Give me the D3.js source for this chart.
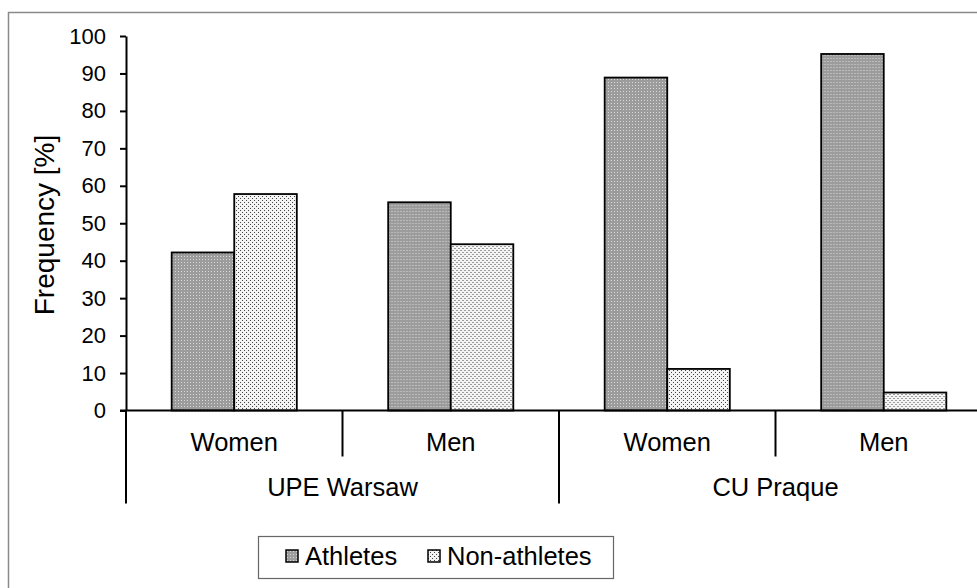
<!DOCTYPE html>
<html>
<head>
<meta charset="utf-8">
<script src="https://cdn.jsdelivr.net/npm/d3@7"></script>
<style>
  body { margin: 0; background: #fff; }
  svg { display: block; font-family: "Liberation Sans", Arial, sans-serif; }
</style>
</head>
<body>
<div id="chart"></div>
<script>
// data
const groups = ["UPE Warsaw", "CU Praque"];
const subgroups = ["Women", "Men", "Women", "Men"];
const groupOf = ["UPE Warsaw", "UPE Warsaw", "CU Praque", "CU Praque"];
const series = ["Athletes", "Non-athletes"];
const athletes = [42.2, 55.6, 88.9, 95.2];
const nonAthletes = [57.8, 44.4, 11.1, 4.8];
const yTicks = [0, 10, 20, 30, 40, 50, 60, 70, 80, 90, 100];

const W = 977, H = 588;
const margin = {top: 36, left: 126};
const plotW = 866, plotH = 374.5;

const svg = d3.select("#chart").append("svg")
  .attr("width", W)
  .attr("height", H);

// patterns
const defs = svg.append("defs");
const pa = defs.append("pattern")
  .attr("id", "patAth")
  .attr("patternUnits", "userSpaceOnUse")
  .attr("width", 3).attr("height", 3);
pa.append("rect").attr("width", 3).attr("height", 3).attr("fill", "#9c9c9c");
pa.append("rect").attr("x", 1).attr("y", 1).attr("width", 1).attr("height", 1).attr("fill", "#d8d8d8");

const pn = defs.append("pattern")
  .attr("id", "patNon")
  .attr("patternUnits", "userSpaceOnUse")
  .attr("width", 4).attr("height", 4);
pn.append("rect").attr("width", 4).attr("height", 4).attr("fill", "#f4f4f4");
pn.append("rect").attr("x", 0).attr("y", 0).attr("width", 1).attr("height", 1).attr("fill", "#444");
pn.append("rect").attr("x", 2).attr("y", 2).attr("width", 1).attr("height", 1).attr("fill", "#444");

const fills = {"Athletes": "url(#patAth)", "Non-athletes": "url(#patNon)"};

// chart area border (cut off at right/bottom)
svg.append("rect")
  .attr("x", 8.5).attr("y", 12.5)
  .attr("width", 1000).attr("height", 600)
  .attr("fill", "none")
  .attr("stroke", "#8a8a8a")
  .attr("stroke-width", 1.5);

const g = svg.append("g")
  .attr("transform", `translate(${margin.left},${margin.top})`);

const keys = d3.range(subgroups.length);
const x0 = d3.scaleBand()
  .domain(keys)
  .range([0, plotW]);

const bw = x0.bandwidth();
const x1 = d3.scaleBand()
  .domain(series)
  .range([bw * 0.211, bw * 0.789]);

const y = d3.scaleLinear()
  .domain([0, 100])
  .range([plotH, 0]);

// Y axis
const yAxis = g.append("g")
  .call(d3.axisLeft(y).tickValues(yTicks).tickSize(6).tickSizeOuter(0).tickPadding(14));
yAxis.select(".domain").attr("stroke", "#000").attr("stroke-width", 2);
yAxis.selectAll(".tick line").attr("stroke", "#000").attr("stroke-width", 2);
yAxis.selectAll("text")
  .style("font-size", "22px")
  .style("font-family", "Liberation Sans, Arial, sans-serif")
  .attr("fill", "#000");

// Y axis label
svg.append("text")
  .attr("transform", "translate(44,225) rotate(-90)")
  .attr("text-anchor", "middle")
  .attr("dy", "0.35em")
  .style("font-size", "28px")
  .text("Frequency [%]");

// bars
const rows = keys.map(i => ({i, vals: [athletes[i], nonAthletes[i]]}));
const cat = g.selectAll(".cat")
  .data(rows)
  .enter()
  .append("g")
    .attr("class", "cat")
    .attr("transform", d => `translate(${x0(d.i)},0)`);

cat.selectAll("rect")
  .data(d => series.map((s, j) => ({s, v: d.vals[j]})))
  .enter()
  .append("rect")
    .attr("x", d => x1(d.s))
    .attr("y", d => y(d.v))
    .attr("width", x1.bandwidth())
    .attr("height", d => y(0) - y(d.v))
    .attr("fill", d => fills[d.s])
    .attr("stroke", "#000")
    .attr("stroke-width", 1.8);

// x axis line
g.append("line")
  .attr("x1", -6).attr("x2", plotW)
  .attr("y1", y(0)).attr("y2", y(0))
  .attr("stroke", "#000")
  .attr("stroke-width", 2);

// subgroup dividers and group dividers
keys.forEach(i => {
  const isGroupEdge = i === 0 || groupOf[i] !== groupOf[i - 1];
  g.append("line")
    .attr("x1", x0(i)).attr("x2", x0(i))
    .attr("y1", y(0)).attr("y2", y(0) + (isGroupEdge ? 93 : 46))
    .attr("stroke", "#000")
    .attr("stroke-width", 2);
});
g.append("line")
  .attr("x1", plotW).attr("x2", plotW)
  .attr("y1", y(0)).attr("y2", y(0) + 93)
  .attr("stroke", "#000")
  .attr("stroke-width", 2);

// subgroup labels
g.selectAll(".sublabel")
  .data(keys)
  .enter()
  .append("text")
    .attr("class", "sublabel")
    .attr("x", i => x0(i) + bw / 2)
    .attr("y", y(0) + 32)
    .attr("dy", "0.35em")
    .attr("text-anchor", "middle")
    .style("font-size", "25.5px")
    .text(i => subgroups[i]);

// group labels
g.selectAll(".grouplabel")
  .data(groups)
  .enter()
  .append("text")
    .attr("class", "grouplabel")
    .attr("x", gr => {
      const idx = keys.filter(i => groupOf[i] === gr);
      return (x0(idx[0]) + x0(idx[idx.length - 1]) + bw) / 2;
    })
    .attr("y", y(0) + 77)
    .attr("dy", "0.35em")
    .attr("text-anchor", "middle")
    .style("font-size", "25.5px")
    .text(gr => gr);

// legend
const legend = svg.append("g");
legend.append("rect")
  .attr("x", 258.5).attr("y", 536.5)
  .attr("width", 355).attr("height", 42)
  .attr("fill", "#fff")
  .attr("stroke", "#666")
  .attr("stroke-width", 1.2);

const legX = [286, 428];
const items = legend.selectAll(".legend-item")
  .data(series)
  .enter()
  .append("g")
    .attr("class", "legend-item")
    .attr("transform", (d, i) => `translate(${legX[i]},550)`);

items.append("rect")
  .attr("width", 12)
  .attr("height", 12)
  .attr("fill", d => fills[d])
  .attr("stroke", "#000")
  .attr("stroke-width", 1.5);

items.append("text")
  .attr("x", 19)
  .attr("y", 6)
  .attr("dy", "0.35em")
  .style("font-size", "25.5px")
  .text(d => d);
</script>
</body>
</html>
